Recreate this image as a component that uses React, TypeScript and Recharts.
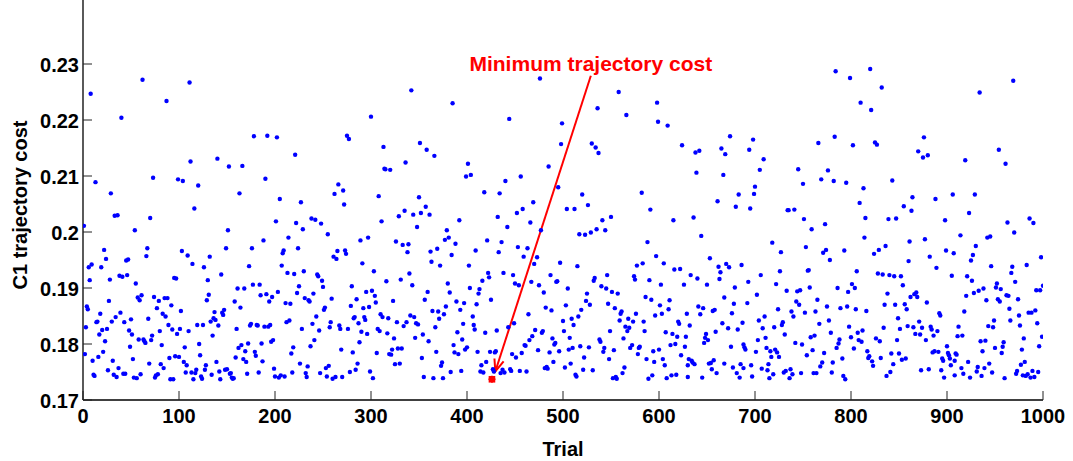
import React from 'react';
import { ScatterChart, Scatter, XAxis, YAxis, ReferenceLine } from 'recharts';

type P = [number, number];

// Trial / C1 trajectory cost in blocks of 100 trials
const trials0to99: P[] = [[62,.2272],[8,.2247],[87,.2234],[40,.2204],[13,.2089],[73,.2097],[99,.2094],[29,.2069],[70,.2025],[33,.2029],[36,.2030],[1,.2011],[54,.2003],[22,.1968],[67,.1971],[24,.1952],[66,.1957],[9,.1942],[6,.1937],[19,.1937],[45,.1949],[47,.1951],[7,.1914],[28,.1915],[38,.1922],[41,.1920],[46,.1923],[95,.1918],[97,.1917],[55,.1908],[27,.1877],[61,.1887],[57,.1883],[59,.1878],[74,.1884],[85,.1882],[88,.1882],[79,.1877],[4,.1867],[5,.1862],[77,.1864],[92,.1869],[18,.1854],[39,.1856],[34,.1848],[83,.1854],[86,.1849],[15,.1840],[14,.1839],[30,.1840],[43,.1839],[50,.1844],[68,.1845],[3,.1830],[25,.1827],[20,.1825],[48,.1824],[93,.1826],[89,.1834],[17,.1817],[51,.1817],[80,.1823],[98,.1818],[72,.1815],[23,.1805],[58,.1808],[63,.1808],[64,.1805],[65,.1802],[71,.1807],[49,.1795],[82,.1798],[2,.1782],[21,.1786],[16,.1777],[10,.1770],[31,.1770],[52,.1773],[69,.1765],[81,.1764],[90,.1775],[96,.1778],[100,.1777],[26,.1753],[37,.1757],[84,.1757],[11,.1745],[12,.1743],[32,.1745],[35,.1741],[42,.1747],[44,.1747],[53,.1740],[56,.1739],[60,.1746],[75,.1740],[76,.1744],[78,.1746],[91,.1737],[94,.1737]];
const trials100to199: P[] = [[111,.2267],[178,.2171],[192,.2172],[112,.2126],[140,.2131],[152,.2117],[166,.2118],[104,.2091],[190,.2095],[120,.2083],[163,.2069],[116,.2042],[151,.2003],[188,.1985],[149,.1971],[176,.1971],[103,.1966],[109,.1958],[132,.1956],[114,.1943],[126,.1937],[173,.1939],[144,.1924],[130,.1914],[177,.1906],[184,.1906],[161,.1899],[168,.1899],[131,.1888],[129,.1878],[185,.1887],[191,.1889],[197,.1884],[194,.1876],[158,.1876],[164,.1865],[102,.1859],[137,.1857],[147,.1861],[145,.1856],[146,.1852],[136,.1846],[138,.1843],[133,.1840],[119,.1834],[125,.1834],[141,.1833],[174,.1833],[175,.1836],[181,.1834],[182,.1833],[189,.1831],[193,.1831],[195,.1834],[101,.1827],[110,.1823],[160,.1827],[135,.1815],[121,.1800],[162,.1793],[165,.1798],[172,.1801],[169,.1787],[179,.1786],[180,.1779],[186,.1801],[196,.1804],[198,.1807],[106,.1794],[122,.1780],[105,.1768],[108,.1762],[128,.1762],[139,.1768],[159,.1776],[167,.1773],[170,.1768],[187,.1769],[199,.1756],[200,.1742],[107,.1749],[113,.1749],[115,.1737],[117,.1748],[118,.1754],[123,.1742],[124,.1738],[127,.1754],[134,.1745],[142,.1751],[143,.1737],[148,.1754],[150,.1755],[153,.1747],[154,.1748],[155,.1740],[156,.1738],[157,.1739],[171,.1747],[183,.1749]];
const trials200to299: P[] = [[202,.2169],[275,.2172],[277,.2166],[221,.2138],[266,.2085],[262,.2068],[271,.2074],[272,.2049],[205,.2059],[227,.2053],[201,.2019],[222,.2016],[238,.2024],[242,.2022],[248,.2015],[229,.2005],[214,.1990],[255,.1996],[289,.1985],[297,.1990],[224,.1971],[209,.1967],[208,.1962],[261,.1956],[264,.1952],[265,.1966],[273,.1967],[274,.1961],[207,.1940],[291,.1944],[213,.1927],[220,.1925],[230,.1930],[244,.1924],[245,.1921],[249,.1913],[250,.1902],[225,.1903],[280,.1903],[203,.1893],[223,.1891],[231,.1882],[235,.1878],[236,.1876],[240,.1890],[259,.1881],[295,.1893],[211,.1873],[216,.1872],[252,.1865],[251,.1861],[279,.1868],[285,.1880],[292,.1864],[298,.1866],[243,.1849],[282,.1846],[283,.1848],[293,.1848],[294,.1843],[212,.1839],[215,.1842],[228,.1827],[239,.1836],[246,.1824],[258,.1839],[257,.1830],[267,.1833],[268,.1827],[276,.1827],[287,.1837],[290,.1822],[296,.1818],[241,.1807],[288,.1803],[219,.1794],[217,.1783],[237,.1796],[269,.1790],[281,.1785],[226,.1765],[234,.1760],[253,.1757],[256,.1761],[286,.1765],[299,.1751],[204,.1740],[206,.1744],[210,.1742],[218,.1749],[232,.1748],[233,.1741],[247,.1748],[254,.1742],[260,.1738],[263,.1741],[270,.1741],[278,.1750],[284,.1754]];
const trials300to399: P[] = [[342,.2253],[385,.2230],[300,.2206],[351,.2159],[358,.2147],[366,.2136],[313,.2152],[336,.2124],[314,.2113],[315,.2112],[320,.2111],[399,.2099],[308,.2064],[350,.2062],[357,.2045],[335,.2038],[352,.2034],[361,.2031],[329,.2028],[344,.2031],[311,.2019],[348,.2009],[392,.2021],[379,.2003],[381,.1990],[377,.1986],[326,.1983],[333,.1977],[339,.1978],[338,.1964],[388,.1979],[369,.1970],[362,.1965],[384,.1959],[363,.1947],[372,.1940],[303,.1930],[340,.1926],[316,.1912],[331,.1915],[343,.1905],[301,.1895],[304,.1886],[305,.1874],[323,.1877],[359,.1893],[356,.1879],[380,.1908],[382,.1892],[389,.1876],[397,.1873],[393,.1861],[378,.1867],[364,.1859],[370,.1858],[376,.1853],[371,.1845],[310,.1853],[312,.1848],[318,.1846],[341,.1851],[345,.1848],[337,.1839],[334,.1832],[327,.1839],[347,.1837],[349,.1835],[307,.1827],[309,.1823],[317,.1819],[324,.1810],[346,.1811],[354,.1817],[360,.1805],[367,.1830],[396,.1836],[390,.1821],[395,.1808],[386,.1798],[387,.1785],[391,.1782],[398,.1790],[306,.1784],[322,.1790],[319,.1782],[321,.1781],[328,.1792],[332,.1792],[368,.1786],[353,.1775],[325,.1764],[330,.1765],[373,.1761],[374,.1767],[302,.1739],[355,.1741],[365,.1739],[375,.1739],[383,.1750],[394,.1752]];
const trials400to499: P[] = [[476,.2274],[444,.2202],[499,.2194],[498,.2157],[401,.2122],[404,.2102],[485,.2117],[456,.2099],[440,.2091],[418,.2071],[434,.2069],[495,.2080],[469,.2053],[458,.2041],[452,.2034],[432,.2027],[466,.2017],[442,.2009],[477,.2003],[421,.1985],[436,.1982],[409,.1967],[433,.1964],[453,.1973],[463,.1971],[459,.1956],[473,.1955],[470,.1943],[497,.1945],[402,.1940],[422,.1927],[423,.1919],[438,.1927],[448,.1923],[450,.1908],[454,.1905],[467,.1911],[475,.1905],[487,.1923],[494,.1912],[493,.1911],[416,.1913],[403,.1900],[413,.1898],[412,.1890],[480,.1892],[425,.1879],[410,.1871],[482,.1865],[488,.1860],[464,.1853],[406,.1849],[407,.1834],[408,.1826],[419,.1820],[431,.1824],[443,.1830],[449,.1837],[471,.1825],[478,.1820],[479,.1823],[468,.1814],[465,.1807],[460,.1798],[461,.1797],[489,.1810],[491,.1799],[492,.1802],[400,.1794],[411,.1786],[424,.1786],[429,.1785],[430,.1787],[447,.1782],[451,.1776],[457,.1784],[474,.1789],[486,.1785],[496,.1787],[420,.1768],[415,.1762],[414,.1751],[417,.1749],[427,.1755],[428,.1751],[435,.1748],[437,.1754],[439,.1749],[445,.1755],[446,.1752],[455,.1752],[462,.1751],[481,.1757],[483,.1759],[484,.1756],[490,.1768]];
const trials500to599: P[] = [[558,.2250],[536,.2221],[566,.2209],[598,.2231],[599,.2197],[530,.2158],[534,.2151],[537,.2141],[520,.2067],[526,.2048],[504,.2041],[512,.2041],[582,.2070],[591,.2040],[550,.2027],[541,.2021],[535,.2005],[544,.2003],[517,.1996],[523,.1995],[529,.1999],[588,.1982],[597,.1957],[515,.1939],[577,.1940],[583,.1944],[546,.1923],[533,.1918],[532,.1913],[574,.1921],[575,.1915],[590,.1914],[505,.1899],[540,.1903],[545,.1899],[551,.1893],[557,.1890],[525,.1890],[524,.1877],[528,.1870],[586,.1884],[592,.1879],[503,.1869],[547,.1872],[519,.1861],[516,.1849],[554,.1864],[561,.1858],[560,.1854],[576,.1854],[596,.1851],[500,.1841],[509,.1845],[511,.1834],[559,.1842],[565,.1831],[568,.1845],[569,.1829],[573,.1840],[584,.1840],[585,.1823],[501,.1823],[549,.1823],[567,.1823],[507,.1811],[563,.1810],[538,.1808],[539,.1804],[506,.1790],[510,.1793],[518,.1796],[527,.1794],[543,.1793],[542,.1786],[553,.1789],[570,.1793],[572,.1798],[579,.1793],[580,.1795],[578,.1782],[594,.1787],[600,.1790],[522,.1776],[548,.1773],[587,.1773],[595,.1768],[502,.1758],[508,.1765],[521,.1754],[531,.1753],[564,.1758],[562,.1748],[513,.1745],[514,.1742],[552,.1739],[555,.1741],[556,.1738],[589,.1738],[593,.1744]];
const trials600to699: P[] = [[609,.2190],[624,.2155],[638,.2142],[642,.2145],[665,.2149],[669,.2139],[674,.2171],[694,.2147],[698,.2165],[639,.2106],[667,.2102],[699,.2068],[683,.2067],[661,.2055],[680,.2045],[695,.2042],[636,.2026],[615,.2021],[644,.1993],[605,.1944],[653,.1953],[616,.1933],[622,.1934],[662,.1938],[664,.1928],[663,.1916],[670,.1943],[673,.1937],[686,.1941],[633,.1923],[640,.1917],[602,.1906],[626,.1906],[650,.1906],[693,.1911],[679,.1901],[668,.1883],[611,.1878],[610,.1862],[601,.1869],[678,.1872],[692,.1873],[641,.1867],[646,.1864],[603,.1854],[629,.1854],[643,.1853],[656,.1859],[658,.1861],[676,.1855],[620,.1840],[621,.1836],[632,.1833],[666,.1837],[687,.1838],[672,.1828],[682,.1826],[607,.1821],[614,.1818],[619,.1813],[628,.1813],[649,.1818],[648,.1811],[651,.1807],[659,.1822],[612,.1798],[617,.1800],[627,.1795],[647,.1802],[675,.1795],[688,.1799],[689,.1794],[690,.1790],[623,.1780],[631,.1773],[634,.1770],[635,.1767],[637,.1764],[604,.1773],[606,.1762],[630,.1762],[652,.1765],[654,.1766],[657,.1771],[668,.1765],[655,.1755],[660,.1748],[677,.1758],[681,.1748],[684,.1740],[685,.1764],[688,.1757],[696,.1762],[697,.1742],[608,.1739],[613,.1744],[618,.1745],[630,.1741],[645,.1740]];
const trials700to799: P[] = [[784,.2287],[799,.2275],[783,.2170],[766,.2159],[709,.2130],[705,.2111],[745,.2112],[776,.2110],[750,.2086],[769,.2094],[782,.2091],[795,.2088],[700,.2081],[734,.2039],[735,.2039],[741,.2040],[751,.2023],[759,.2005],[773,.2014],[718,.1981],[727,.1964],[753,.1973],[771,.1963],[774,.1968],[778,.1950],[793,.1967],[706,.1923],[726,.1930],[755,.1931],[756,.1932],[722,.1907],[702,.1888],[733,.1895],[744,.1894],[747,.1896],[757,.1901],[786,.1900],[797,.1893],[765,.1879],[743,.1876],[746,.1870],[724,.1862],[738,.1858],[740,.1849],[752,.1856],[763,.1858],[775,.1867],[789,.1864],[796,.1867],[710,.1849],[704,.1842],[729,.1839],[728,.1834],[777,.1842],[708,.1828],[720,.1830],[731,.1817],[767,.1836],[779,.1820],[798,.1831],[703,.1807],[711,.1811],[758,.1812],[762,.1815],[742,.1802],[749,.1799],[787,.1801],[788,.1808],[785,.1793],[701,.1786],[712,.1793],[716,.1787],[721,.1790],[723,.1785],[717,.1777],[725,.1777],[760,.1789],[754,.1780],[772,.1784],[768,.1760],[770,.1767],[791,.1774],[714,.1764],[707,.1756],[713,.1753],[719,.1746],[715,.1739],[730,.1749],[732,.1752],[737,.1755],[736,.1739],[739,.1746],[748,.1748],[761,.1748],[764,.1748],[780,.1749],[781,.1767],[792,.1743],[794,.1737]];
const trials800to899: P[] = [[820,.2291],[832,.2258],[810,.2231],[821,.2218],[802,.2155],[825,.2160],[827,.2156],[876,.2169],[870,.2144],[875,.2133],[880,.2137],[843,.2092],[813,.2078],[809,.2052],[855,.2046],[864,.2062],[863,.2038],[888,.2059],[815,.2025],[839,.2023],[847,.2024],[898,.2021],[814,.1990],[861,.1983],[877,.1987],[899,.1967],[824,.1961],[829,.1968],[836,.1975],[860,.1948],[882,.1956],[889,.1936],[806,.1930],[828,.1926],[833,.1924],[840,.1923],[845,.1921],[852,.1921],[854,.1905],[801,.1907],[804,.1900],[838,.1890],[862,.1884],[866,.1889],[868,.1892],[869,.1884],[879,.1874],[835,.1870],[846,.1870],[856,.1871],[858,.1862],[805,.1862],[816,.1859],[892,.1855],[893,.1851],[849,.1846],[871,.1840],[834,.1829],[851,.1827],[859,.1832],[865,.1830],[874,.1829],[883,.1831],[884,.1826],[890,.1823],[886,.1815],[807,.1820],[812,.1824],[867,.1818],[872,.1817],[800,.1812],[826,.1810],[830,.1805],[808,.1807],[811,.1804],[848,.1807],[878,.1807],[803,.1792],[817,.1787],[819,.1778],[818,.1775],[822,.1769],[823,.1761],[831,.1775],[842,.1783],[850,.1783],[844,.1764],[853,.1772],[857,.1774],[885,.1785],[887,.1787],[891,.1786],[895,.1774],[896,.1770],[841,.1750],[837,.1743],[873,.1753],[881,.1755],[894,.1753],[897,.1740]];
const trials900to1000: P[] = [[969,.2270],[934,.2249],[954,.2147],[961,.2122],[919,.2128],[906,.2067],[929,.2067],[923,.2034],[963,.2017],[970,.1999],[986,.2024],[990,.2016],[914,.1994],[942,.1990],[945,.1992],[930,.1975],[907,.1962],[927,.1959],[925,.1949],[998,.1955],[946,.1939],[968,.1938],[967,.1927],[971,.1911],[983,.1941],[905,.1922],[921,.1921],[926,.1913],[952,.1908],[951,.1901],[956,.1898],[938,.1899],[933,.1895],[928,.1891],[920,.1886],[962,.1887],[964,.1886],[993,.1896],[997,.1896],[1000,.1904],[941,.1878],[953,.1880],[955,.1876],[974,.1880],[965,.1863],[918,.1858],[975,.1851],[985,.1856],[988,.1856],[992,.1860],[949,.1842],[966,.1842],[994,.1837],[943,.1832],[948,.1830],[976,.1833],[912,.1831],[911,.1814],[916,.1815],[980,.1810],[999,.1813],[935,.1805],[940,.1806],[959,.1803],[958,.1795],[950,.1793],[900,.1796],[996,.1796],[937,.1787],[957,.1784],[978,.1790],[901,.1784],[902,.1780],[903,.1774],[909,.1783],[910,.1781],[904,.1762],[908,.1770],[922,.1768],[915,.1757],[932,.1759],[939,.1757],[944,.1765],[977,.1763],[981,.1768],[908,.1744],[917,.1747],[924,.1740],[931,.1751],[936,.1743],[947,.1749],[960,.1739],[972,.1747],[973,.1752],[979,.1744],[982,.1743],[984,.1746],[987,.1740],[989,.1752],[991,.1741],[995,.1750]];

const minimumTrial: P = [426, 0.1737];
const xTicks = [0, 100, 200, 300, 400, 500, 600, 700, 800, 900, 1000];
const yTicks = [0.17, 0.18, 0.19, 0.2, 0.21, 0.22, 0.23];
const xDomain: [number, number] = [0, 1000];
const yDomain: [number, number] = [0.17, 0.24143];
const xLabel = 'Trial';
const yLabel = 'C1 trajectory cost';
const annotationText = 'Minimum trajectory cost';
const arrowFrom = { x: 529, y: 0.2279 };
const arrowTo = { x: 429.5, y: 0.1751 };

const blocks = [trials0to99, trials100to199, trials200to299, trials300to399, trials400to499,
  trials500to599, trials600to699, trials700to799, trials800to899, trials900to1000];
const costData = blocks.flat().map(([x, y]) => ({ x, y }));
const minData = [{ x: minimumTrial[0], y: minimumTrial[1] }];

const W = 1073;
const H = 461;
const TICK = 9;
const FONT = '"Liberation Sans", Arial, Helvetica, sans-serif';
const fmtY = (v: number) => String(Number(v.toFixed(2)));

const BottomTick = (p: any) => (
  <g>
    <line x1={p.x} x2={p.x} y1={p.y} y2={p.y - TICK} stroke="#222" strokeWidth={1} />
    <text x={p.x} y={p.y + 23} textAnchor="middle" fontFamily={FONT} fontWeight="bold" fontSize={20} fill="#000">
      {p.payload.value}
    </text>
  </g>
);
const LeftTick = (p: any) => (
  <g>
    <line x1={p.x} x2={p.x + TICK} y1={p.y} y2={p.y} stroke="#222" strokeWidth={1} />
    <text x={p.x - 4} y={p.y + 8} textAnchor="end" fontFamily={FONT} fontWeight="bold" fontSize={20} fill="#000">
      {fmtY(p.payload.value)}
    </text>
  </g>
);
const RightTick = (p: any) => <line x1={p.x} x2={p.x - TICK} y1={p.y} y2={p.y} stroke="#222" strokeWidth={1} />;

const BlueDot = (p: any) => <circle cx={p.cx} cy={p.cy} r={2.2} fill="#0000ff" />;
const Empty = () => <g />;
const MinMarker = (p: any) => (
  <g stroke="#ff0000" strokeWidth={1.6}>
    <rect x={p.cx - 2.5} y={p.cy - 2.5} width={5} height={5} fill="#ff0000" />
    <line x1={p.cx - 3.5} x2={p.cx + 3.5} y1={p.cy} y2={p.cy} />
    <line x1={p.cx} x2={p.cx} y1={p.cy - 3.5} y2={p.cy + 3.5} />
  </g>
);

const Arrow = (p: any) => {
  const { x1, y1, x2, y2 } = p;
  const ang = Math.atan2(y1 - y2, x1 - x2);
  const len = 13;
  const spread = 0.38;
  const ax = x2 + len * Math.cos(ang + spread);
  const ay = y2 + len * Math.sin(ang + spread);
  const bx = x2 + len * Math.cos(ang - spread);
  const by = y2 + len * Math.sin(ang - spread);
  return (
    <g>
      <line x1={x1} y1={y1} x2={x2} y2={y2} stroke="#ff0000" strokeWidth={2} />
      <polyline points={`${ax},${ay} ${x2},${y2} ${bx},${by}`} fill="none" stroke="#ff0000" strokeWidth={2} />
      <text x={x1} y={y1 - 5} textAnchor="middle" fontFamily={FONT} fontWeight="bold" fontSize={21} fill="#ff0000">
        {annotationText}
      </text>
    </g>
  );
};

const XLabel = (p: any) => {
  const vb = p.viewBox;
  return (
    <text x={vb.x + vb.width / 2} y={vb.y + 56} textAnchor="middle" fontFamily={FONT} fontWeight="bold" fontSize={20} fill="#000">
      {xLabel}
    </text>
  );
};
const YLabel = () => {
  const cy = 205;
  return (
    <text x={26.5} y={cy} transform={`rotate(-90 26.5 ${cy})`} textAnchor="middle" fontFamily={FONT} fontWeight="bold" fontSize={20} fill="#000">
      {yLabel}
    </text>
  );
};

export default function App() {
  return (
    <div style={{ position: 'absolute', left: 0, top: 0, width: W, height: H, background: '#fff' }}>
      <ScatterChart width={W} height={H} margin={{ top: 0, right: 30, bottom: 0, left: 0 }}>
        <XAxis xAxisId="b" dataKey="x" type="number" domain={xDomain} ticks={xTicks} interval={0}
          allowDataOverflow height={61} tickSize={0} tickMargin={0} tickLine={false}
          axisLine={{ stroke: '#000', strokeWidth: 1.3 }} tick={<BottomTick />} label={XLabel} />
        <YAxis yAxisId="l" dataKey="y" type="number" domain={yDomain} ticks={yTicks} interval={0}
          allowDataOverflow width={83} tickSize={0} tickMargin={0} tickLine={false}
          axisLine={{ stroke: '#000', strokeWidth: 1.3 }} tick={<LeftTick />} label={YLabel} />
        <YAxis yAxisId="r" orientation="right" dataKey="y" type="number" domain={yDomain} ticks={yTicks} interval={0}
          allowDataOverflow width={0} tickSize={0} tickMargin={0} tickLine={false}
          axisLine={{ stroke: '#000', strokeWidth: 1.3 }} tick={<RightTick />} />
        <Scatter xAxisId="b" yAxisId="r" data={costData} shape={Empty} isAnimationActive={false} />
        <Scatter xAxisId="b" yAxisId="l" data={costData} shape={BlueDot} isAnimationActive={false} />
        <Scatter xAxisId="b" yAxisId="l" data={minData} shape={MinMarker} isAnimationActive={false} />
        <ReferenceLine xAxisId="b" yAxisId="l" segment={[arrowFrom, arrowTo]} ifOverflow="visible" shape={Arrow} />
      </ScatterChart>
    </div>
  );
}
